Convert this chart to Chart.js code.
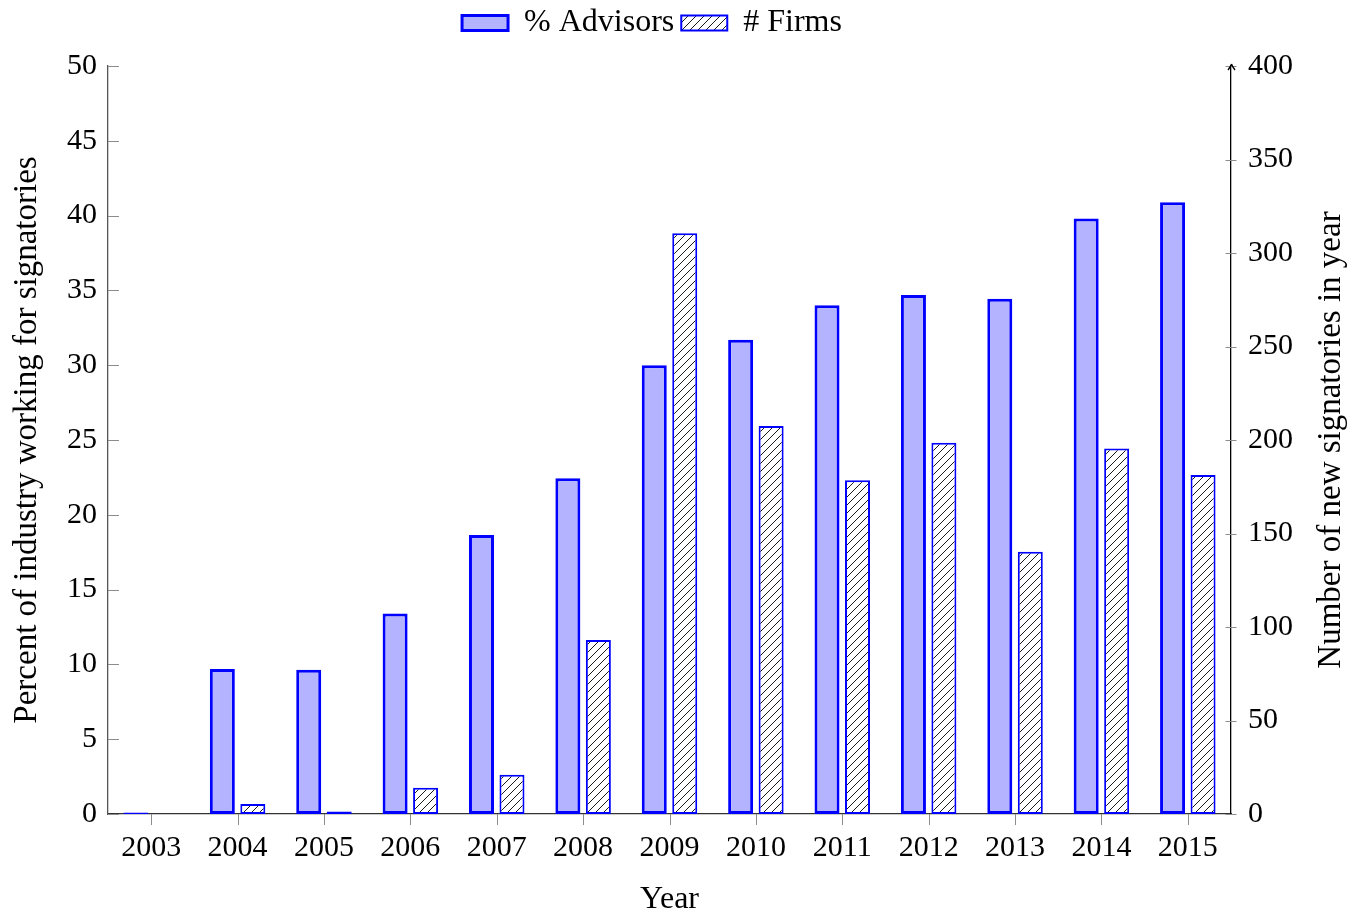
<!DOCTYPE html>
<html>
<head>
<meta charset="utf-8">
<script src="https://cdn.jsdelivr.net/npm/chart.js@4.4.1/dist/chart.umd.min.js"></script>
<style>
  html, body { margin: 0; padding: 0; background: #fff; }
  #wrap { width: 1361px; height: 919px; }
</style>
</head>
<body>
<div id="wrap"><canvas id="c" width="1361" height="919"></canvas></div>
<script>
const years = ['2003','2004','2005','2006','2007','2008','2009','2010','2011','2012','2013','2014','2015'];
const advisorsPct = [0.1, 9.7, 9.65, 13.4, 18.65, 22.45, 30.0, 31.7, 34.0, 34.7, 34.45, 39.8, 40.9];
const newFirms = [0, 5.3, 1.4, 14, 21, 93, 310.5, 207.5, 178.5, 198.5, 140.3, 195.5, 181.3];
const leftTicks = [0,5,10,15,20,25,30,35,40,45,50];
const rightTicks = [0,50,100,150,200,250,300,350,400];
const seriesNames = ['% Advisors', '# Firms'];
const axisTitles = ['Year', 'Percent of industry working for signatories', 'Number of new signatories in year'];

const FONT = 'Liberation Serif, Times New Roman, serif';
const BLUE = '#0000ff';
const LIGHT = '#b3b3ff';

function makeHatch() {
  const s = 8;
  const c = document.createElement('canvas');
  c.width = s; c.height = s;
  const g = c.getContext('2d');
  g.fillStyle = '#fff';
  g.fillRect(0, 0, s, s);
  g.strokeStyle = '#000';
  g.lineWidth = 0.9;
  g.beginPath();
  g.moveTo(-1, s + 1); g.lineTo(s + 1, -1);
  g.moveTo(-1, 1); g.lineTo(1, -1);
  g.moveTo(s - 1, s + 1); g.lineTo(s + 1, s - 1);
  g.stroke();
  return g.createPattern(c, 'repeat');
}
const ctx = document.getElementById('c').getContext('2d');
const hatch = makeHatch();

const legendHeight = {
  id: 'legendHeight',
  beforeInit(chart) {
    const fit = chart.legend.fit;
    chart.legend.fit = function () { fit.call(this); this.height = 66; };
  },
  afterLayout(chart) {
    const lg = chart.legend;
    const w = lg.right - lg.left;
    lg.left = 652 - w / 2;
    lg.right = 652 + w / 2;
  }
};

const axisDecor = {
  id: 'axisDecor',
  afterDraw(chart) {
    const c = chart.ctx;
    const a = chart.chartArea;
    const yl = chart.scales.y, yr = chart.scales.y1, x = chart.scales.x;
    c.save();
    c.strokeStyle = '#8c8c8c';
    c.lineWidth = 1;
    leftTicks.forEach(v => {
      const p = Math.round(yl.getPixelForValue(v)) + 0.5;
      c.beginPath(); c.moveTo(a.left, p); c.lineTo(a.left + 11, p); c.stroke();
    });
    rightTicks.forEach(v => {
      const p = Math.round(yr.getPixelForValue(v)) + 0.5;
      c.beginPath(); c.moveTo(a.right - 5.5, p); c.lineTo(a.right + 5.5, p); c.stroke();
    });
    years.forEach((_, i) => {
      const p = Math.round(x.getPixelForValue(i)) + 0.5;
      c.beginPath(); c.moveTo(p, a.bottom); c.lineTo(p, a.bottom + 11); c.stroke();
    });
    const ax = Math.round(a.right) + 0.5;
    const top = yr.getPixelForValue(400) - 2;
    c.strokeStyle = '#000';
    c.lineWidth = 1.3;
    c.beginPath();
    c.moveTo(ax, a.top); c.lineTo(ax, top);
    c.moveTo(ax - 3.5, top + 6); c.quadraticCurveTo(ax - 0.5, top + 2, ax, top);
    c.moveTo(ax + 3.5, top + 6); c.quadraticCurveTo(ax + 0.5, top + 2, ax, top);
    c.stroke();
    // right axis title (reads bottom to top, like the left one)
    c.fillStyle = '#000';
    c.font = '33px ' + FONT;
    c.textAlign = 'center';
    c.textBaseline = 'middle';
    c.translate(1331, (a.top + a.bottom) / 2);
    c.rotate(-Math.PI / 2);
    c.fillText(axisTitles[2], 0, 0);
    c.restore();
  }
};

new Chart(ctx, {
  type: 'bar',
  data: {
    labels: years,
    datasets: [
      {
        label: seriesNames[0],
        data: advisorsPct,
        yAxisID: 'y',
        backgroundColor: LIGHT,
        borderColor: BLUE,
        borderWidth: 3,
        borderSkipped: false
      },
      {
        label: seriesNames[1],
        data: newFirms,
        yAxisID: 'y1',
        backgroundColor: hatch,
        borderColor: BLUE,
        borderWidth: 2,
        borderSkipped: false
      }
    ]
  },
  options: {
    responsive: false,
    animation: false,
    devicePixelRatio: 1,
    categoryPercentage: 0.706,
    barPercentage: 0.82,
    layout: { padding: 0 },
    plugins: {
      legend: {
        position: 'top',
        fullSize: false,
        labels: {
          color: '#000',
          font: { family: FONT, size: 32 },
          boxWidth: 46,
          boxHeight: 15,
          padding: 7
        }
      },
      tooltip: { enabled: false }
    },
    scales: {
      x: {
        type: 'category',
        offset: true,
        grid: { display: false, drawTicks: false, offset: false },
        border: { display: true, color: '#333', width: 1.3 },
        ticks: { color: '#000', font: { family: FONT, size: 30 }, padding: 16, maxRotation: 0, autoSkip: false },
        title: { display: true, text: axisTitles[0], color: '#000', font: { family: FONT, size: 32 }, padding: { top: 0, bottom: 0 } },
        afterFit(s) { s.height = 105; }
      },
      y: {
        position: 'left',
        min: 0, max: 50,
        grid: { display: false, drawTicks: false },
        border: { display: true, color: '#555', width: 1.3 },
        ticks: { stepSize: 5, color: '#000', font: { family: FONT, size: 30 }, padding: 11 },
        title: { display: true, text: axisTitles[1], color: '#000', font: { family: FONT, size: 33 }, padding: { top: 8, bottom: 0 } },
        afterFit(s) { s.width = 108; }
      },
      y1: {
        position: 'right',
        min: 0, max: 400,
        grid: { display: false, drawTicks: false },
        border: { display: true, color: '#000', width: 1.3 },
        ticks: { stepSize: 50, color: '#000', font: { family: FONT, size: 30 }, padding: 17 },
        title: { display: false },
        afterFit(s) { s.width = 130; }
      }
    }
  },
  plugins: [legendHeight, axisDecor]
});
</script>
</body>
</html>
